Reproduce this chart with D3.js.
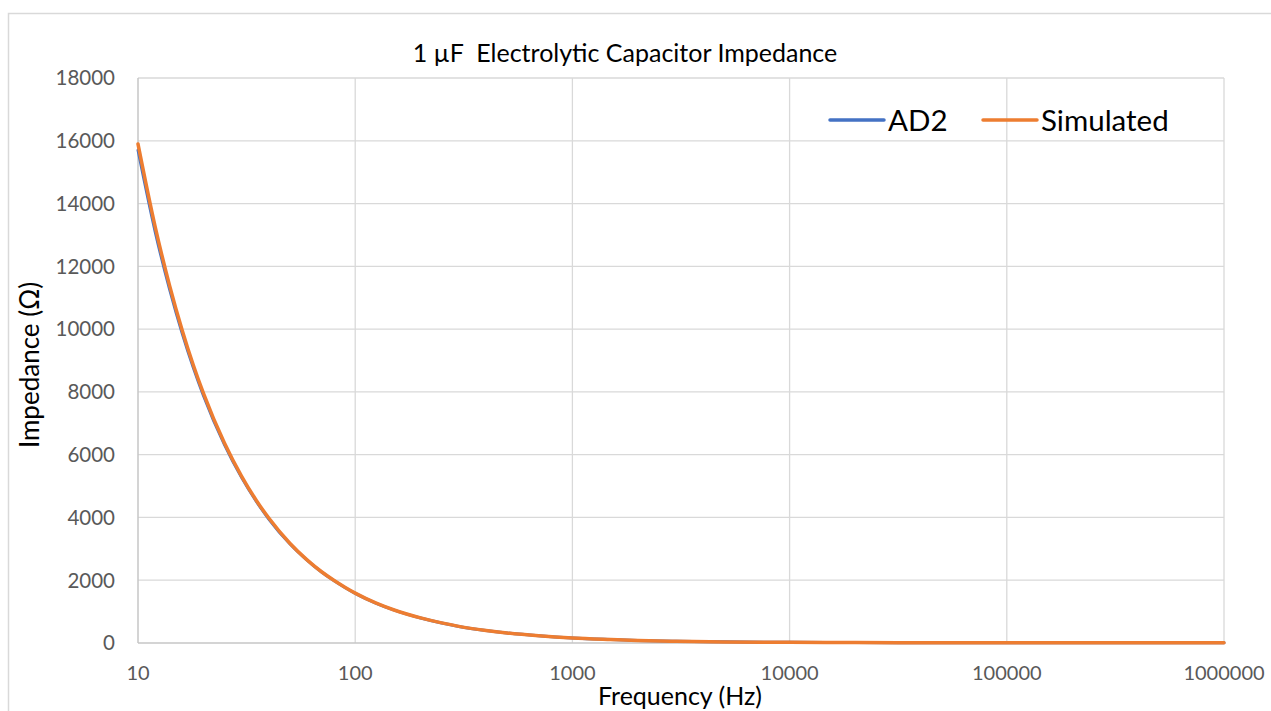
<!DOCTYPE html>
<html>
<head>
<meta charset="utf-8">
<script src="https://cdn.jsdelivr.net/npm/d3@7"></script>
<style>
  body { margin: 0; background: #fff; }
  svg { display: block; font-family: Lato, "Open Sans", sans-serif; }
</style>
</head>
<body>
<svg id="chart" width="1271" height="711"></svg>
<script>
// frequencies (Hz)
const freqs = [10, 12, 14, 16, 18, 20, 25, 30, 35, 40, 50, 60, 70, 80, 90, 100,
  125, 150, 200, 250, 300, 400, 500, 700, 1000, 1500, 2000, 3000, 5000,
  10000, 20000, 50000, 100000, 1000000];

// measured impedance (AD2), ohms
const ad2 = [15700, 13100, 11250, 9850, 8760, 7890, 6320, 5270, 4520, 3950, 3160,
  2640, 2260, 1980, 1760, 1580, 1265, 1055, 795, 637, 528, 398, 319, 229, 160,
  110, 81, 56, 36, 21, 13, 9, 7, 6];

// simulated impedance, ohms
const simulated = [15900, 13260, 11370, 9950, 8840, 7960, 6370, 5310, 4550, 3980,
  3180, 2650, 2270, 1990, 1770, 1590, 1270, 1060, 800, 640, 530, 400, 320, 230,
  160, 110, 80, 55, 35, 20, 12, 8, 6, 5];

const xTicks = [10, 100, 1000, 10000, 100000, 1000000];
const yTicks = [0, 2000, 4000, 6000, 8000, 10000, 12000, 14000, 16000, 18000];

const series = [
  { name: "AD2", values: ad2, color: "#4472C4", width: 3 },
  { name: "Simulated", values: simulated, color: "#ED7D31", width: 3.5 }
];

const svg = d3.select("#chart");
const margin = { left: 138, right: 47, top: 78, bottom: 68 };
const W = 1271, H = 711;

const x = d3.scaleLog().domain([10, 1000000]).range([margin.left, W - margin.right]);
const y = d3.scaleLinear().domain([0, 18000]).range([H - margin.bottom, margin.top]);

// outer chart frame (cropped at right/bottom)
svg.append("path")
  .attr("d", `M8.5,${H} V13.5 H${W}`)
  .attr("fill", "none")
  .attr("stroke", "#d9d9d9")
  .attr("stroke-width", 1.5);

// gridlines
svg.append("g")
  .selectAll("line")
  .data(yTicks.slice(1))
  .join("line")
  .attr("x1", x(10)).attr("x2", x(1000000))
  .attr("y1", (d) => y(d)).attr("y2", (d) => y(d))
  .attr("stroke", "#d9d9d9").attr("stroke-width", 1.3);

svg.append("g")
  .selectAll("line")
  .data(xTicks.slice(1))
  .join("line")
  .attr("x1", (d) => x(d)).attr("x2", (d) => x(d))
  .attr("y1", y(0)).attr("y2", y(18000))
  .attr("stroke", "#d9d9d9").attr("stroke-width", 1.3);

// axis lines
svg.append("line")
  .attr("x1", x(10)).attr("x2", x(1000000))
  .attr("y1", y(0)).attr("y2", y(0))
  .attr("stroke", "#c6c6c6").attr("stroke-width", 1.5);
svg.append("line")
  .attr("x1", x(10)).attr("x2", x(10))
  .attr("y1", y(0)).attr("y2", y(18000))
  .attr("stroke", "#c6c6c6").attr("stroke-width", 1.5);

// tick labels
svg.append("g")
  .selectAll("text")
  .data(yTicks)
  .join("text")
  .attr("x", 115)
  .attr("y", (d) => y(d))
  .attr("dy", "0.36em")
  .attr("text-anchor", "end")
  .attr("fill", "#595959")
  .attr("font-size", 20.5)
  .text((d) => d);

svg.append("g")
  .selectAll("text")
  .data(xTicks)
  .join("text")
  .attr("x", (d) => x(d))
  .attr("y", 680)
  .attr("text-anchor", "middle")
  .attr("fill", "#595959")
  .attr("font-size", 20)
  .text((d) => d);

// curves
const line = d3.line()
  .x((d) => x(d[0]))
  .y((d) => y(d[1]))
  .curve(d3.curveMonotoneX);

series.forEach((s) => {
  svg.append("path")
    .datum(freqs.map((f, i) => [f, s.values[i]]))
    .attr("d", line)
    .attr("fill", "none")
    .attr("stroke", s.color)
    .attr("stroke-width", s.width)
    .attr("stroke-linejoin", "round")
    .attr("stroke-linecap", "round");
});

// title
svg.append("text")
  .attr("x", 625)
  .attr("y", 62)
  .attr("text-anchor", "middle")
  .attr("font-size", 25)
  .attr("fill", "#000")
  .style("white-space", "pre")
  .text("1 µF  Electrolytic Capacitor Impedance");

// axis titles
svg.append("text")
  .attr("x", 680)
  .attr("y", 705)
  .attr("text-anchor", "middle")
  .attr("font-size", 25)
  .attr("fill", "#000")
  .text("Frequency (Hz)");

svg.append("text")
  .attr("transform", `translate(39,365) rotate(-90)`)
  .attr("text-anchor", "middle")
  .attr("font-size", 26)
  .attr("fill", "#000")
  .text("Impedance (Ω)");

// legend
const legend = svg.append("g");
const legendX = [830, 983];
series.forEach((s, i) => {
  const g = legend.append("g").attr("transform", `translate(${legendX[i]},120)`);
  g.append("line")
    .attr("x1", 0).attr("x2", 54)
    .attr("stroke", s.color)
    .attr("stroke-width", 3.5)
    .attr("stroke-linecap", "round");
  g.append("text")
    .attr("x", 58)
    .attr("dy", "0.36em")
    .attr("font-size", 29.5)
    .attr("fill", "#000")
    .text(s.name);
});
</script>
</body>
</html>
